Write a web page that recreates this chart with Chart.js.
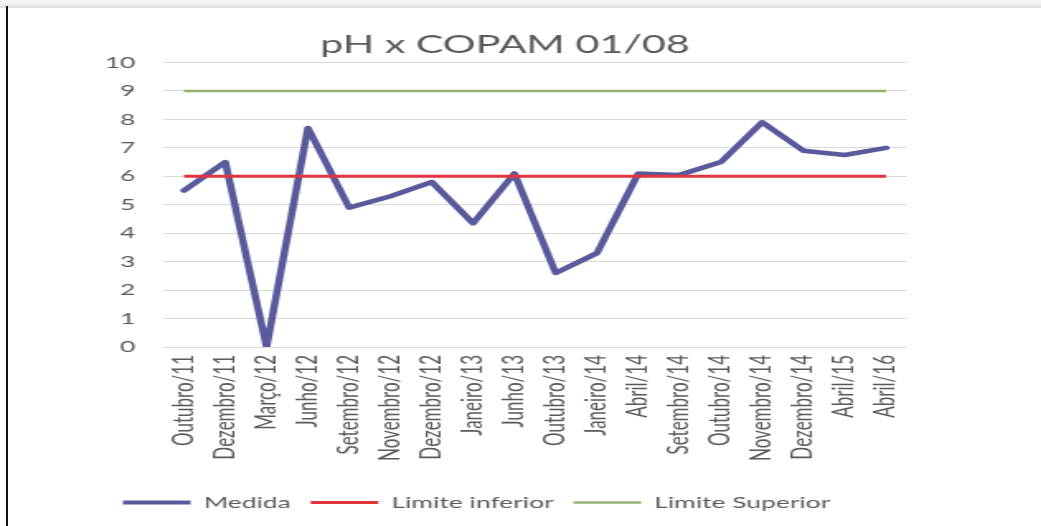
<!DOCTYPE html>
<html>
<head>
<meta charset="utf-8">
<script src="https://cdn.jsdelivr.net/npm/chart.js@4/dist/chart.umd.min.js"></script>
<style>
  html, body { margin: 0; padding: 0; background: #ffffff; overflow: hidden; }
  body { width: 1041px; height: 526px; position: relative; }
  #topband { position: absolute; left: 0; top: 0; width: 1041px; height: 6px;
    background: linear-gradient(to bottom, #f7f7f7, #ececec); }
  #topline { position: absolute; left: 0; top: 6px; width: 1041px; height: 2px; background: #e2e2e2; }
  #leftline { position: absolute; left: 6px; top: 6px; width: 2px; height: 520px; background: #111111; }
  #wrap { position: absolute; left: 0; top: 0; width: 631px; height: 526px;
    transform: scaleX(1.65); transform-origin: 0 0; }
</style>
</head>
<body>
<div id="topband"></div>
<div id="topline"></div>
<div id="wrap"><canvas id="c" width="631" height="526"></canvas></div>
<div id="leftline"></div>
<script>
const categories = ['Outubro/11','Dezembro/11','Março/12','Junho/12','Setembro/12','Novembro/12','Dezembro/12','Janeiro/13','Junho/13','Outubro/13','Janeiro/14','Abril/14','Setembro/14','Outubro/14','Novembro/14','Dezembro/14','Abril/15','Abril/16'];
const medida = [5.5, 6.5, 0, 7.7, 4.9, 5.3, 5.8, 4.35, 6.1, 2.6, 3.3, 6.1, 6.05, 6.5, 7.9, 6.9, 6.75, 7.0];
const limiteInferior = [6, 6, 6, 6, 6, 6, 6, 6, 6, 6, 6, 6, 6, 6, 6, 6, 6, 6];
const limiteSuperior = [9, 9, 9, 9, 9, 9, 9, 9, 9, 9, 9, 9, 9, 9, 9, 9, 9, 9];
const yTicks = [0, 1, 2, 3, 4, 5, 6, 7, 8, 9, 10];
const seriesNames = ['Medida', 'Limite inferior', 'Limite Superior'];
const chartTitle = 'pH x COPAM 01/08';

const textColor = '#595959';
const FONT = "Lato, 'Open Sans', sans-serif";

new Chart(document.getElementById('c'), {
  type: 'line',
  data: {
    labels: categories,
    datasets: [
      { label: seriesNames[0], data: medida, borderColor: '#585a9c', backgroundColor: '#585a9c',
        borderWidth: 4.5, pointRadius: 0, tension: 0, borderJoinStyle: 'round', borderCapStyle: 'round', order: 3 },
      { label: seriesNames[1], data: limiteInferior, borderColor: '#e2323c', backgroundColor: '#e2323c',
        borderWidth: 3, pointRadius: 0, tension: 0, order: 2 },
      { label: seriesNames[2], data: limiteSuperior, borderColor: '#93b26d', backgroundColor: '#93b26d',
        borderWidth: 2.5, pointRadius: 0, tension: 0, order: 1 }
    ]
  },
  options: {
    responsive: false,
    animation: false,
    devicePixelRatio: 1,
    layout: { padding: { left: 62.5, right: 81.5, top: 0, bottom: 5.5 } },
    plugins: {
      tooltip: { enabled: false },
      title: {
        display: true, text: chartTitle, color: textColor,
        font: { family: FONT, size: 25, weight: 'normal', lineHeight: 1.2 },
        padding: { top: 30, bottom: 2.5 }
      },
      legend: {
        position: 'bottom', align: 'start',
        labels: {
          color: textColor, font: { family: FONT, size: 16 },
          usePointStyle: true, pointStyleWidth: 41, padding: 12,
          generateLabels(chart) {
            return chart.data.datasets.map((ds, i) => ({
              text: ds.label, fillStyle: ds.borderColor, strokeStyle: ds.borderColor,
              lineWidth: i === 0 ? 4 : (i === 1 ? 3 : 2.5), pointStyle: 'line',
              hidden: false, datasetIndex: i, fontColor: textColor
            }));
          }
        }
      }
    },
    scales: {
      x: {
        offset: true,
        grid: { display: false, drawTicks: false, offset: true },
        border: { display: false },
        ticks: {
          color: textColor, font: { family: FONT, size: 17 },
          minRotation: 90, maxRotation: 90, autoSkip: false, padding: 8
        },
        afterFit(scale) { scale.height = 135.5; scale.paddingLeft = 0; scale.paddingRight = 0; }
      },
      y: {
        min: 0, max: 10,
        grid: { color: '#d9d9d9', lineWidth: 1, drawTicks: false },
        border: { display: false },
        ticks: {
          color: textColor, font: { family: FONT, size: 16 }, padding: 17,
          stepSize: 1,
          callback: (v) => yTicks.includes(v) ? String(v) : ''
        },
        afterFit(scale) { scale.width = 36.5; }
      }
    }
  }
});
</script>
</body>
</html>
